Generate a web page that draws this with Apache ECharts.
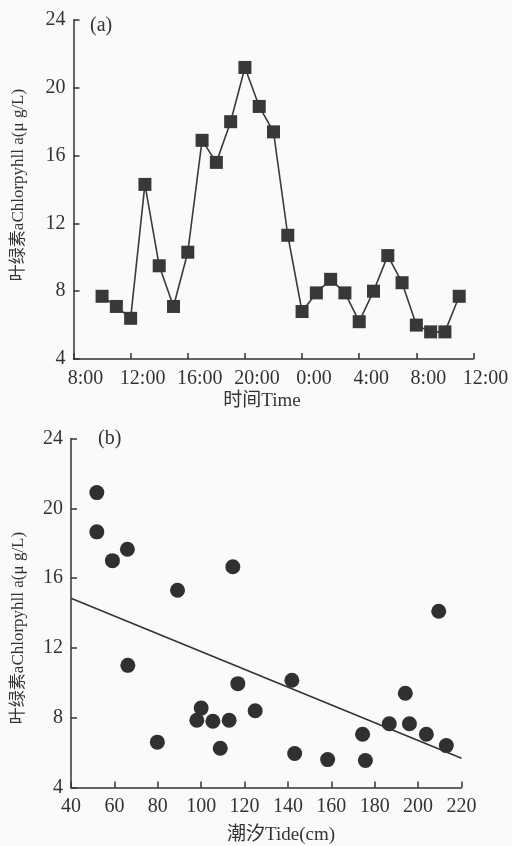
<!DOCTYPE html>
<html>
<head>
<meta charset="utf-8">
<script src="https://cdn.jsdelivr.net/npm/echarts@6/dist/echarts.min.js"></script>
<style>
html,body{margin:0;padding:0;background:#fafafa;}
#c{width:512px;height:846px;}
</style>
</head>
<body>
<div id="c"></div>
<script>
// ---- Panel (a): chlorophyll a over time (hours since 0:00 of day 1) ----
const timeHours = [10, 11, 12, 13, 14, 15, 16, 17, 18, 19, 20, 21, 22, 23, 24, 25, 26, 27, 28, 29, 30, 31, 32, 33, 34, 35];
const chlTime = [7.7, 7.1, 6.4, 14.3, 9.5, 7.1, 10.3, 16.9, 15.6, 18.0, 21.2, 18.9, 17.4, 11.3, 6.8, 7.9, 8.7, 7.9, 6.2, 8.0, 10.1, 8.5, 6.0, 5.6, 5.6, 7.7];

// ---- Panel (b): chlorophyll a vs tide ----
const tideCm = [51.9, 51.9, 59.1, 66.0, 89.1, 114.6, 66.2, 79.8, 98.0, 100.0, 105.4, 108.8, 112.9, 116.9, 124.9, 141.8, 143.1, 158.3, 174.4, 175.7, 186.7, 194.1, 196.0, 203.8, 209.5, 213.0];
const chlTide = [20.9, 18.65, 17.0, 17.65, 15.3, 16.65, 11.0, 6.6, 7.85, 8.55, 7.8, 6.25, 7.85, 9.95, 8.4, 10.15, 5.95, 5.6, 7.05, 5.55, 7.65, 9.4, 7.65, 7.05, 14.1, 6.4];
const fitX = [40, 220];
const fitY = [14.85, 5.68];

// ---- labels ----
const yName = '叶绿素aChlorpyhll a(μ g/L)';
const xNameA = '时间Time';
const xNameB = '潮汐Tide(cm)';

const FONT = "'Liberation Serif','Times New Roman','Noto Sans CJK SC',serif";
const INK = '#333';

const chart = echarts.init(document.getElementById('c'), null, {renderer: 'canvas'});

function axisCommon() {
  return {
    axisLine: {show: true, lineStyle: {color: INK, width: 1.5}},
    axisTick: {show: true, inside: true, length: 6, lineStyle: {color: INK, width: 1.5}},
    splitLine: {show: false},
    axisLabel: {color: INK, fontFamily: FONT, fontSize: 20, margin: 8}
  };
}

const xa = axisCommon();
xa.gridIndex = 0; xa.type = 'value'; xa.min = 8; xa.max = 36; xa.interval = 4;
xa.axisLabel = Object.assign({}, xa.axisLabel, {
  margin: 10, padding: [0, 0, 0, 24],
  formatter: v => (v % 24) + ':00'
});
const ya = axisCommon();
ya.gridIndex = 0; ya.type = 'value'; ya.min = 4; ya.max = 24; ya.interval = 4;

const xb = axisCommon();
xb.gridIndex = 1; xb.type = 'value'; xb.min = 40; xb.max = 220; xb.interval = 20;
xb.axisLabel = Object.assign({}, xb.axisLabel, {margin: 9});
const yb = axisCommon();
yb.gridIndex = 1; yb.type = 'value'; yb.min = 4; yb.max = 24; yb.interval = 4;

chart.setOption({
  backgroundColor: '#fafafa',
  animation: false,
  grid: [
    {left: 73.5, right: 38.5, top: 20, height: 339},
    {left: 71, right: 50.5, top: 438.5, height: 349}
  ],
  xAxis: [xa, xb],
  yAxis: [ya, yb],
  series: [
    {
      type: 'line', xAxisIndex: 0, yAxisIndex: 0,
      data: timeHours.map((t, i) => [t, chlTime[i]]),
      symbol: 'rect', symbolSize: 13,
      itemStyle: {color: '#383838', opacity: 1},
      lineStyle: {color: '#3a3a3a', width: 1.6}
    },
    {
      type: 'scatter', xAxisIndex: 1, yAxisIndex: 1,
      data: tideCm.map((t, i) => [t, chlTide[i]]),
      symbol: 'circle', symbolSize: 15,
      itemStyle: {color: '#303030', opacity: 1}
    },
    {
      type: 'line', xAxisIndex: 1, yAxisIndex: 1,
      data: fitX.map((x, i) => [x, fitY[i]]),
      symbol: 'none',
      lineStyle: {color: '#333', width: 1.6}
    }
  ],
  graphic: [
    {type: 'text', left: 90, top: 16, style: {text: '(a)', font: '20px ' + FONT, fill: INK}},
    {type: 'text', left: 98, top: 429, style: {text: '(b)', font: '20px ' + FONT, fill: INK}},
    {type: 'text', x: 262, y: 401, style: {text: xNameA, font: '19px ' + FONT, fill: INK, align: 'center', verticalAlign: 'middle'}},
    {type: 'text', x: 281, y: 835, style: {text: xNameB, font: '19px ' + FONT, fill: INK, align: 'center', verticalAlign: 'middle'}},
    {type: 'text', x: 19, y: 185, rotation: Math.PI / 2, style: {text: yName, font: '17px ' + FONT, fill: INK, align: 'center', verticalAlign: 'middle'}},
    {type: 'text', x: 19, y: 628, rotation: Math.PI / 2, style: {text: yName, font: '17px ' + FONT, fill: INK, align: 'center', verticalAlign: 'middle'}}
  ]
});
</script>
</body>
</html>
